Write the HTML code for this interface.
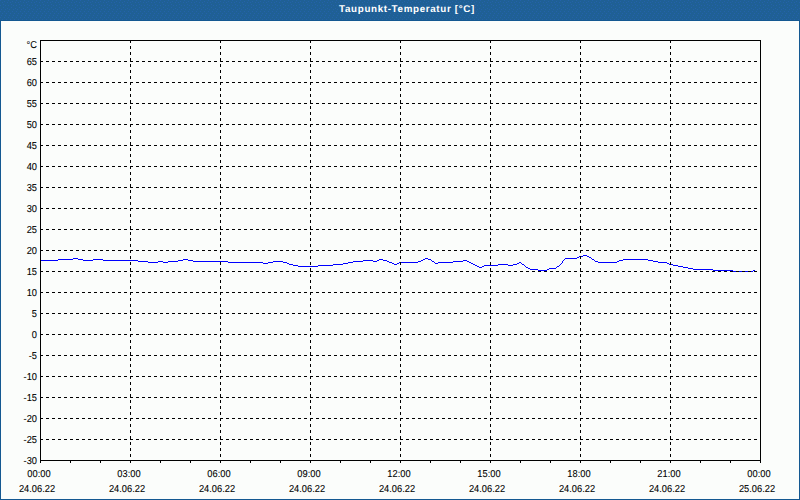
<!DOCTYPE html>
<html><head><meta charset="utf-8">
<style>
html,body{margin:0;padding:0;}
body{width:800px;height:500px;overflow:hidden;position:relative;background:rgb(251,253,251);font-family:"Liberation Sans",sans-serif;text-rendering:geometricPrecision;}
#frame{position:absolute;left:0;top:0;width:800px;height:500px;box-sizing:border-box;border:1px solid rgb(20,88,145);border-top:none;}
#title{position:absolute;left:0;top:0;width:800px;height:20px;background:rgb(31,96,149);border-bottom:1px solid rgb(20,88,145);}
#title span{position:absolute;left:7px;width:800px;top:3px;text-align:center;color:#fff;font-weight:bold;font-size:9.8px;line-height:14px;letter-spacing:0.66px;}
svg{position:absolute;left:0;top:0;}
.yl{position:absolute;right:763px;font-size:9.3px;line-height:10px;color:#000;white-space:nowrap;transform:scaleY(1.08);transform-origin:0 0;-webkit-text-stroke:0.08px #000;}
.xl{position:absolute;width:80px;text-align:center;font-size:9.3px;line-height:10px;color:#000;white-space:nowrap;transform:scaleY(1.08);transform-origin:0 0;-webkit-text-stroke:0.08px #000;}
</style></head><body>
<div id="frame"></div>
<div id="title"><svg width="800" height="20" style="position:absolute;left:0;top:0" shape-rendering="crispEdges"><defs><pattern id="dots" width="8" height="20" patternUnits="userSpaceOnUse"><path d="M0 0h1v1h-1zM4 1h1v1h-1zM2 2h1v1h-1zM7 2h1v1h-1zM3 4h1v1h-1zM0 5h1v1h-1zM5 5h1v1h-1zM3 7h1v1h-1zM7 8h1v1h-1zM1 9h1v1h-1zM5 9h1v1h-1zM0 11h1v1h-1zM4 11h1v1h-1zM2 13h1v1h-1zM6 13h1v1h-1zM1 15h1v1h-1zM5 15h1v1h-1zM0 17h1v1h-1zM4 17h1v1h-1zM2 19h1v1h-1zM6 19h1v1h-1z" fill="rgb(36,98,170)"/></pattern></defs><rect width="800" height="20" fill="url(#dots)"/></svg><span>Taupunkt-Temperatur [°C]</span></div>
<svg width="800" height="500" viewBox="0 0 800 500" shape-rendering="crispEdges">
<path d="M40 260h18v1h-18zM58 259h15v1h-15zM73 258h5v1h-5zM78 259h5v1h-5zM83 260h10v1h-10zM93 259h10v1h-10zM103 260h35v1h-35zM138 261h10v1h-10zM148 262h10v1h-10zM158 261h5v1h-5zM163 262h5v1h-5zM168 261h10v1h-10zM178 260h5v1h-5zM183 259h5v1h-5zM188 260h5v1h-5zM193 261h35v1h-35zM228 262h35v1h-35zM263 263h5v1h-5zM268 262h5v1h-5zM273 261h10v1h-10zM283 262h4v1h-4zM287 263h2v1h-2zM289 264h4v1h-4zM293 265h5v1h-5zM298 266h20v1h-20zM318 265h15v1h-15zM333 264h10v1h-10zM343 263h5v1h-5zM348 262h5v1h-5zM353 261h10v1h-10zM363 260h10v1h-10zM373 261h4v1h-4zM377 260h2v1h-2zM379 259h4v1h-4zM383 260h4v1h-4zM387 261h2v1h-2zM389 262h3v1h-3zM392 263h2v1h-2zM394 264h3v1h-3zM397 263h2v1h-2zM399 262h19v1h-19zM418 261h3v1h-3zM421 260h2v1h-2zM423 259h2v1h-2zM425 258h3v1h-3zM428 259h3v1h-3zM431 260h1v1h-1zM432 261h2v1h-2zM434 262h1v1h-1zM435 263h3v1h-3zM438 262h15v1h-15zM453 261h10v1h-10zM463 260h4v1h-4zM467 261h2v1h-2zM469 262h2v1h-2zM471 263h2v1h-2zM473 264h2v1h-2zM475 265h2v1h-2zM477 266h2v1h-2zM479 267h3v1h-3zM482 266h2v1h-2zM484 265h14v1h-14zM498 264h10v1h-10zM508 265h5v1h-5zM513 264h4v1h-4zM517 263h2v1h-2zM519 262h2v1h-2zM521 263h1v1h-1zM522 264h2v1h-2zM524 265h1v1h-1zM525 266h1v1h-1zM526 267h2v1h-2zM528 268h2v1h-2zM530 269h8v1h-8zM538 270h9v1h-9zM547 269h2v1h-2zM549 268h7v1h-7zM556 267h1v1h-1zM557 266h2v1h-2zM559 265h1v1h-1zM560 264h1v1h-1zM561 263h1v1h-1zM562 262h1v1h-1zM562 261h1v1h-1zM563 260h1v1h-1zM564 259h1v1h-1zM565 258h12v1h-12zM577 257h2v1h-2zM579 256h4v1h-4zM583 255h4v1h-4zM587 256h2v1h-2zM589 257h2v1h-2zM591 258h1v1h-1zM592 259h2v1h-2zM594 260h1v1h-1zM595 261h3v1h-3zM598 262h19v1h-19zM617 261h2v1h-2zM619 260h4v1h-4zM623 259h25v1h-25zM648 260h5v1h-5zM653 261h5v1h-5zM658 262h9v1h-9zM667 263h2v1h-2zM669 264h4v1h-4zM673 265h5v1h-5zM678 266h5v1h-5zM683 267h5v1h-5zM688 268h5v1h-5zM693 269h20v1h-20zM713 270h20v1h-20zM733 271h20v1h-20zM753 270h2v1h-2z" fill="#0000ff"/>
<path d="M40 61.5H760M40 82.5H760M40 103.5H760M40 124.5H760M40 145.5H760M40 166.5H760M40 187.5H760M40 208.5H760M40 229.5H760M40 250.5H760M40 271.5H760M40 292.5H760M40 313.5H760M40 334.5H760M40 355.5H760M40 376.5H760M40 397.5H760M40 418.5H760M40 439.5H760M130.5 40V460M220.5 40V460M310.5 40V460M400.5 40V460M490.5 40V460M580.5 40V460M670.5 40V460" stroke="#000" stroke-width="1" stroke-dasharray="3 3" fill="none"/>
<path d="M40.5 40V463M760.5 40V463M40 40.5H761M40 460.5H761" stroke="#000" stroke-width="1" fill="none"/>
<path d="M70.5 461V463M100.5 461V463M130.5 461V463M160.5 461V463M190.5 461V463M220.5 461V463M250.5 461V463M280.5 461V463M310.5 461V463M340.5 461V463M370.5 461V463M400.5 461V463M430.5 461V463M460.5 461V463M490.5 461V463M520.5 461V463M550.5 461V463M580.5 461V463M610.5 461V463M640.5 461V463M670.5 461V463M700.5 461V463M730.5 461V463" stroke="#000" stroke-width="1" fill="none"/>
</svg>
<div class="yl" style="top:39px">°C</div>
<div class="yl" style="top:56px">65</div>
<div class="yl" style="top:77px">60</div>
<div class="yl" style="top:98px">55</div>
<div class="yl" style="top:119px">50</div>
<div class="yl" style="top:140px">45</div>
<div class="yl" style="top:161px">40</div>
<div class="yl" style="top:182px">35</div>
<div class="yl" style="top:203px">30</div>
<div class="yl" style="top:224px">25</div>
<div class="yl" style="top:245px">20</div>
<div class="yl" style="top:266px">15</div>
<div class="yl" style="top:287px">10</div>
<div class="yl" style="top:308px">5</div>
<div class="yl" style="top:329px">0</div>
<div class="yl" style="top:350px">-5</div>
<div class="yl" style="top:371px">-10</div>
<div class="yl" style="top:392px">-15</div>
<div class="yl" style="top:413px">-20</div>
<div class="yl" style="top:434px">-25</div>
<div class="yl" style="top:455px">-30</div>
<div class="xl" style="left:-1px;top:468px">00:00</div>
<div class="xl" style="left:-3px;top:483px">24.06.22</div>
<div class="xl" style="left:89px;top:468px">03:00</div>
<div class="xl" style="left:87px;top:483px">24.06.22</div>
<div class="xl" style="left:179px;top:468px">06:00</div>
<div class="xl" style="left:177px;top:483px">24.06.22</div>
<div class="xl" style="left:269px;top:468px">09:00</div>
<div class="xl" style="left:267px;top:483px">24.06.22</div>
<div class="xl" style="left:359px;top:468px">12:00</div>
<div class="xl" style="left:357px;top:483px">24.06.22</div>
<div class="xl" style="left:449px;top:468px">15:00</div>
<div class="xl" style="left:447px;top:483px">24.06.22</div>
<div class="xl" style="left:539px;top:468px">18:00</div>
<div class="xl" style="left:537px;top:483px">24.06.22</div>
<div class="xl" style="left:629px;top:468px">21:00</div>
<div class="xl" style="left:627px;top:483px">24.06.22</div>
<div class="xl" style="left:719px;top:468px">00:00</div>
<div class="xl" style="left:717px;top:483px">25.06.22</div>
</body></html>
